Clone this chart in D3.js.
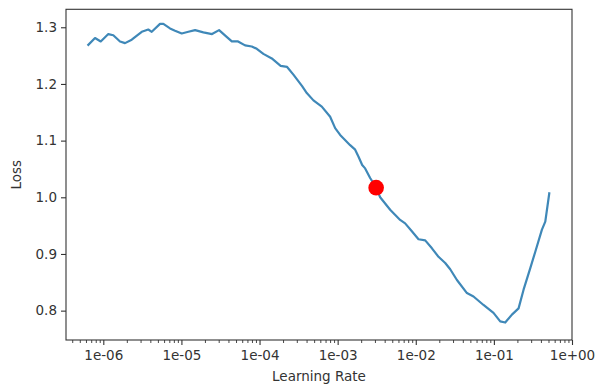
<!DOCTYPE html>
<html><head><meta charset="utf-8">
<script src="https://cdn.jsdelivr.net/npm/d3@7"></script>
<style>html,body{margin:0;padding:0;background:#fff;}svg{display:block;font-family:"DejaVu Sans",sans-serif;}</style>
</head><body><svg id="c" width="596" height="385"></svg>
<script>
// log10 of learning rate for each recorded point
const lrLog10 = [-6.192,-6.106,-6.033,-5.936,-5.872,-5.786,-5.722,-5.636,-5.508,-5.424,-5.380,-5.274,-5.231,-5.146,-5.082,-4.996,-4.911,-4.825,-4.719,-4.608,-4.518,-4.428,-4.355,-4.275,-4.185,-4.099,-4.035,-3.951,-3.843,-3.730,-3.647,-3.564,-3.455,-3.395,-3.310,-3.203,-3.096,-3.032,-2.968,-2.840,-2.776,-2.734,-2.686,-2.648,-2.584,-2.507,-2.456,-2.328,-2.200,-2.136,-2.050,-1.965,-1.879,-1.793,-1.709,-1.623,-1.559,-1.473,-1.345,-1.261,-1.133,-1.005,-0.919,-0.855,-0.769,-0.684,-0.620,-0.534,-0.470,-0.385,-0.342,-0.291];
const loss = [1.269,1.281,1.275,1.288,1.286,1.275,1.272,1.278,1.292,1.296,1.292,1.306,1.306,1.298,1.294,1.289,1.292,1.295,1.291,1.288,1.295,1.284,1.275,1.275,1.268,1.266,1.262,1.253,1.245,1.232,1.230,1.216,1.196,1.184,1.171,1.160,1.142,1.122,1.110,1.092,1.084,1.072,1.057,1.051,1.034,1.017,1.000,0.978,0.960,0.954,0.940,0.926,0.924,0.910,0.895,0.884,0.873,0.854,0.831,0.825,0.810,0.796,0.781,0.779,0.793,0.804,0.837,0.875,0.904,0.943,0.957,1.007];
const suggestedLr = 3.11e-3;
const suggestedLoss = 1.017;
const xTickValues = [1e-6,1e-5,1e-4,1e-3,1e-2,1e-1,1e0];
const xTickLabels = ["1e-06","1e-05","1e-04","1e-03","1e-02","1e-01","1e+00"];
const yTickValues = [0.8,0.9,1.0,1.1,1.2,1.3];
const xLabel = "Learning Rate";
const yLabel = "Loss";

const data = lrLog10.map((e,i)=>({lr: Math.pow(10,e), loss: loss[i]}));
const L=66, R=572, T=9.3, B=340;
const svg = d3.select("#c");
const x = d3.scaleLog().domain([3.33e-7, 1.0]).range([L,R]);
const y = d3.scaleLinear().domain([0.7482, 1.3317]).range([B,T]);
const txt = "#333", spine="#333";
const fs = 13.5;

// minor ticks
const minors = [];
for (let d=-7; d<=0; d++) for (let m=2;m<=9;m++){const v=m*Math.pow(10,d); if(v>=x.domain()[0]&&v<=x.domain()[1]) minors.push(v);}
const xMinor = d3.axisBottom(x).tickValues(minors).tickSize(3).tickFormat("");
const gm = svg.append("g").attr("transform",`translate(0,${B})`).call(xMinor);
gm.select(".domain").remove();
gm.selectAll("line").attr("stroke",spine).attr("stroke-width",0.9);

const xAxis = d3.axisBottom(x).tickValues(xTickValues).tickSize(5).tickPadding(5)
  .tickFormat((d,i)=>xTickLabels[i]);
const gx = svg.append("g").attr("transform",`translate(0,${B})`).call(xAxis);
gx.select(".domain").remove();
gx.selectAll("line").attr("stroke",spine).attr("stroke-width",1.1);
gx.selectAll("text").attr("fill",txt).attr("font-size",fs).attr("font-family","DejaVu Sans");

const yAxis = d3.axisLeft(y).tickValues(yTickValues).tickSize(5).tickPadding(4).tickFormat(d3.format(".1f"));
const gy = svg.append("g").attr("transform",`translate(${L},0)`).call(yAxis);
gy.select(".domain").remove();
gy.selectAll("line").attr("stroke",spine).attr("stroke-width",1.1);
gy.selectAll("text").attr("fill",txt).attr("font-size",fs).attr("font-family","DejaVu Sans");

// line
svg.append("path").datum(data)
  .attr("d", d3.line().x(d=>x(d.lr)).y(d=>y(d.loss)))
  .attr("fill","none").attr("stroke","#3f88b8").attr("stroke-width",2.2)
  .attr("stroke-linejoin","round").attr("stroke-linecap","square");

svg.append("circle").attr("cx",x(suggestedLr)).attr("cy",y(suggestedLoss)).attr("r",7.8).attr("fill","#ff0000");

// spines
svg.append("rect").attr("x",L).attr("y",T).attr("width",R-L).attr("height",B-T)
  .attr("fill","none").attr("stroke",spine).attr("stroke-width",1.1);

svg.append("text").attr("x",(L+R)/2).attr("y",380.5).attr("text-anchor","middle")
  .attr("font-size",fs).attr("fill",txt).text(xLabel);
svg.append("text").attr("transform",`translate(21,${(T+B)/2}) rotate(-90)`).attr("text-anchor","middle")
  .attr("font-size",fs).attr("fill",txt).text(yLabel);
</script></body></html>
